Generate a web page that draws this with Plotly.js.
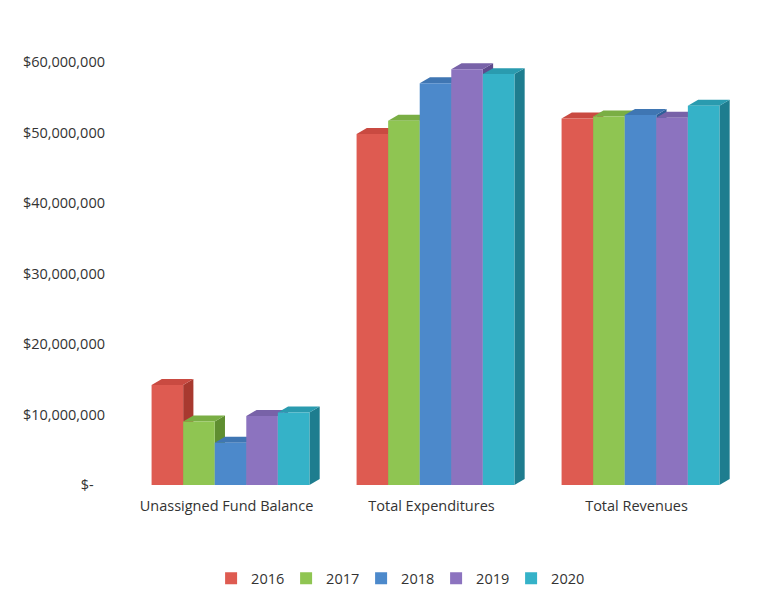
<!DOCTYPE html>
<html>
<head>
<meta charset="utf-8">
<script src="https://cdn.plot.ly/plotly-3.0.1.min.js"></script>
<style>html,body{margin:0;padding:0;background:#fff;}#chart{width:768px;height:601px;}</style>
</head>
<body>
<div id="chart"></div>
<script>
// ---- data ----
const categories = ["Unassigned Fund Balance", "Total Expenditures", "Total Revenues"];
const years = ["2016", "2017", "2018", "2019", "2020"];
const values2016 = [14200000, 49800000, 52000000];
const values2017 = [9000000, 51700000, 52300000];
const values2018 = [6000000, 57000000, 52500000];
const values2019 = [9800000, 59000000, 52100000];
const values2020 = [10300000, 58300000, 53800000];
const yTickVals = [0, 10000000, 20000000, 30000000, 40000000, 50000000, 60000000];
const yTickText = ["$-\u00A0\u00A0\u00A0", "$10,000,000", "$20,000,000", "$30,000,000", "$40,000,000", "$50,000,000", "$60,000,000"];

// ---- styles ----
const series = [values2016, values2017, values2018, values2019, values2020];
const frontColors = ["#DE5B51", "#8FC552", "#4C89CB", "#8C73BF", "#35B2C8"];
const topColors   = ["#C94A41", "#7AAE44", "#3F76B3", "#7862A8", "#2A9BAF"];
const sideColors  = ["#A8392F", "#5F8E30", "#2E5F98", "#5E4A8C", "#1E7D8F"];
const bargap = 0.23;
const nS = series.length;
const bw = (1 - bargap) / nS;
const depthX = 0.05;       // depth in category units
const depthY = 850000;     // depth in value units

const xIdx = categories.map((c, i) => i);
const traces = series.map((vals, s) => ({
  type: 'bar', name: years[s], x: xIdx, y: vals,
  marker: {color: frontColors[s], line: {width: 0}},
  hoverinfo: 'y+name'
}));

const shapes = [];
xIdx.forEach((ci) => {
  series.forEach((vals, s) => {
    const v = vals[ci];
    const x0 = ci - (1 - bargap) / 2 + s * bw;
    const x1 = x0 + bw;
    // right side face
    shapes.push({type: 'path', layer: 'below', xref: 'x', yref: 'y',
      path: `M ${x1} 0 L ${x1 + depthX} ${depthY} L ${x1 + depthX} ${v + depthY} L ${x1} ${v} Z`,
      fillcolor: sideColors[s], line: {width: 0}});
    // top face
    shapes.push({type: 'path', layer: 'below', xref: 'x', yref: 'y',
      path: `M ${x0} ${v} L ${x0 + depthX} ${v + depthY} L ${x1 + depthX} ${v + depthY} L ${x1} ${v} Z`,
      fillcolor: topColors[s], line: {width: 0}});
  });
});

const layout = {
  width: 768, height: 601,
  paper_bgcolor: '#fff', plot_bgcolor: '#fff',
  margin: {l: 128, r: 25, t: 41, b: 116, autoexpand: false},
  barmode: 'group', bargap: bargap, bargroupgap: 0,
  font: {family: 'Open Sans, sans-serif', size: 15, color: '#333'},
  showlegend: true,
  legend: {orientation: 'h', x: 0.44, xanchor: 'center', y: -0.21, yanchor: 'middle',
           font: {size: 14.5, color: '#333'}, itemwidth: 30, entrywidth: 30, traceorder: 'normal'},
  xaxis: {range: [-0.5, 2.5], tickmode: 'array', tickvals: xIdx, ticktext: categories,
          showgrid: false, zeroline: false, showline: false, ticks: '', ticklabelshift: -4,
          ticklabelstandoff: 10,
          tickfont: {size: 14.5, color: '#333'}, fixedrange: true},
  yaxis: {range: [0, 63000000], tickmode: 'array', tickvals: yTickVals, ticktext: yTickText,
          showgrid: false, zeroline: false, showline: false, ticks: '', ticklabelstandoff: 22,
          tickfont: {size: 14.5, color: '#333'}, automargin: false, fixedrange: true},
  shapes: shapes
};

Plotly.newPlot('chart', traces, layout, {displayModeBar: false, staticPlot: true});
</script>
</body>
</html>
